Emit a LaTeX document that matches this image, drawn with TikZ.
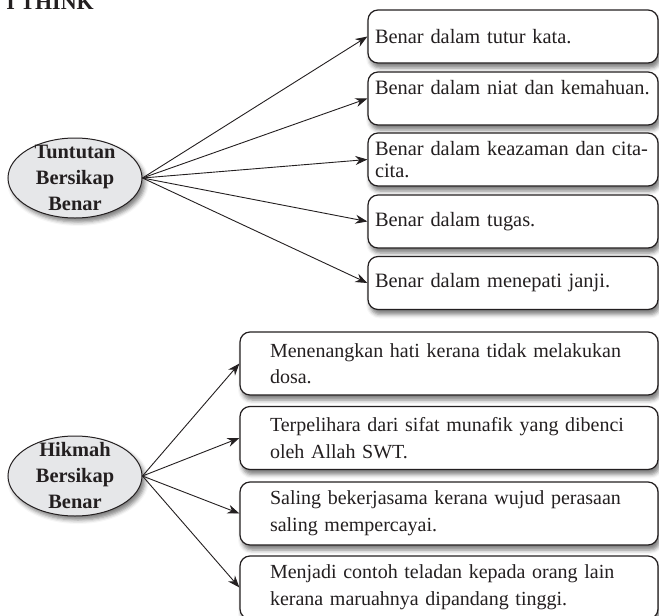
\documentclass[tikz,border=0pt]{standalone}
\usepackage{fontspec}
\setmainfont{Liberation Serif}
\usepackage{tikz}
\usetikzlibrary{arrows.meta, shapes.geometric, shadows.blur}

\definecolor{inkgray}{RGB}{35,31,32}
\definecolor{bubblegray}{RGB}{230,231,233}

% justified line and last line of a hikmah box
\newcommand{\jline}[1]{\hspace*{5pt}\makebox[184pt][s]{#1}}
\newcommand{\rline}[1]{\hspace*{5pt}#1}

\begin{document}
\begin{tikzpicture}[
    x=0.5pt, y=-0.5pt,
    idea/.style={ellipse, draw=inkgray, fill=bubblegray, line width=0.5pt, minimum width=67pt, minimum height=40pt, inner xsep=0pt, inner ysep=-4pt, align=center, text=inkgray, font=\fontsize{10.2}{13}\selectfont\bfseries, blur shadow={shadow xshift=1.5pt, shadow yshift=-2pt, shadow blur radius=2pt, shadow opacity=50}},
    sikap/.style={draw=inkgray, fill=white, rounded corners=5pt, line width=0.6pt, minimum width=145pt, minimum height=26.5pt, text width=144pt, inner xsep=0.5pt, align=left, text=inkgray, font=\fontsize{10.2}{10.8}\selectfont, blur shadow={shadow xshift=1pt, shadow yshift=-2.5pt, shadow blur radius=2pt, shadow opacity=50}},
    hikmah/.style={sikap, minimum width=209pt, minimum height=31.5pt, text width=189pt, inner xsep=10pt, font=\fontsize{10}{13.3}\selectfont},
    arrow/.style={-{Stealth[length=6pt, width=4.5pt]}, draw=inkgray, line width=0.45pt},
    every node/.style={inner ysep=2pt}
]

\useasboundingbox (0,0) rectangle (659,616);

% Heading (cut at the top)
\node[anchor=base west, inner sep=0pt, text=inkgray, font=\fontsize{11}{11}\selectfont\bfseries] (judul) at (6,9) {I THINK};

% Tuntutan
\node[idea] (tuntutan) at (75,178) {Tuntutan\\Bersikap\\Benar};

\node[sikap] (benar1) at (513,36.5) {\hspace*{3pt}Benar dalam tutur kata.};
\node[sikap] (benar2) at (513,98.5) {\hspace*{3pt}Benar dalam niat dan kemahuan.\\ \mbox{}};
\node[sikap] (benar3) at (513,159.5) {\hspace*{3pt}Benar dalam keazaman dan cita-\\\hspace*{3pt}cita.};
\node[sikap] (benar4) at (513,221.5) {\hspace*{3pt}Benar dalam tugas.};
\node[sikap] (benar5) at (513,283) {\hspace*{3pt}Benar dalam menepati janji.};

\draw[arrow] (tuntutan.east) -- (benar1.west);
\draw[arrow] (tuntutan.east) -- (benar2.west);
\draw[arrow] (tuntutan.east) -- (benar3.west);
\draw[arrow] (tuntutan.east) -- (benar4.west);
\draw[arrow] (tuntutan.east) -- (benar5.west);

% Hikmah
\node[idea] (hikmah) at (75,476) {Hikmah\\Bersikap\\Benar};

\node[hikmah] (hikmah1) at (449,363.5)
{\jline{Menenangkan hati kerana tidak melakukan}\\
\rline{dosa.}};
\node[hikmah] (hikmah2) at (449,438)
{\jline{Terpelihara dari sifat munafik yang dibenci}\\
\rline{oleh Allah SWT.}};
\node[hikmah] (hikmah3) at (449,513.5)
{\jline{Saling bekerjasama kerana wujud perasaan}\\
\rline{saling mempercayai.}};
\node[hikmah] (hikmah4) at (449,587.5)
{\jline{Menjadi contoh teladan kepada orang lain}\\
\rline{kerana maruahnya dipandang tinggi.}};

\draw[arrow] (hikmah.east) -- (hikmah1.west);
\draw[arrow] (hikmah.east) -- (hikmah2.west);
\draw[arrow] (hikmah.east) -- (hikmah3.west);
\draw[arrow] (hikmah.east) -- (hikmah4.west);

\end{tikzpicture}
\end{document}
